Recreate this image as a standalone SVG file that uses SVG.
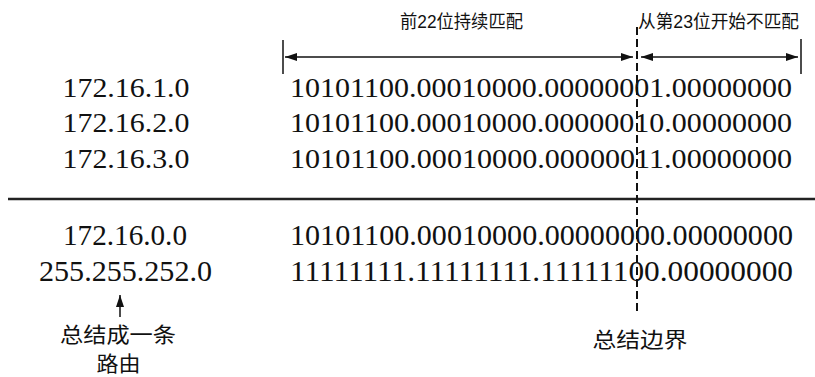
<svg xmlns="http://www.w3.org/2000/svg" width="815" height="377" viewBox="0 0 815 377">
<style>
.num{font-family:"Liberation Serif","Times New Roman",serif;font-size:28px;fill:#111}
.big{font-size:30px}
.cjk{font-family:"Liberation Sans","Noto Sans CJK SC",sans-serif;fill:#111}
.ln{stroke:#111;stroke-width:1.5;fill:none}
</style>
<defs>
<marker id="ah" viewBox="0 0 12 8" refX="12" refY="4" markerWidth="12" markerHeight="8" markerUnits="userSpaceOnUse" orient="auto-start-reverse">
<path d="M0,0 L12,4 L0,8 Z" fill="#111"/>
</marker>
</defs>
<rect width="815" height="377" fill="#fff"/>
<g id="label-match">
<text class="cjk" x="400" y="28" font-size="18" textLength="123" lengthAdjust="spacingAndGlyphs">前22位持续匹配</text>
</g>
<g id="label-mismatch">
<text class="cjk" x="638" y="28" font-size="18" textLength="161" lengthAdjust="spacingAndGlyphs">从第23位开始不匹配</text>
</g>
<g id="row1">
<text class="num" x="126" y="97" text-anchor="middle" textLength="127" lengthAdjust="spacingAndGlyphs">172.16.1.0</text>
<text class="num" x="290" y="97" textLength="502" lengthAdjust="spacingAndGlyphs">10101100.00010000.00000001.00000000</text>
</g>
<g id="row2">
<text class="num" x="126" y="132" text-anchor="middle" textLength="127" lengthAdjust="spacingAndGlyphs">172.16.2.0</text>
<text class="num" x="290" y="132" textLength="502" lengthAdjust="spacingAndGlyphs">10101100.00010000.00000010.00000000</text>
</g>
<g id="row3">
<text class="num" x="126" y="168" text-anchor="middle" textLength="127" lengthAdjust="spacingAndGlyphs">172.16.3.0</text>
<text class="num" x="290" y="168" textLength="502" lengthAdjust="spacingAndGlyphs">10101100.00010000.00000011.00000000</text>
</g>
<g id="row4">
<text class="num big" x="125" y="245" text-anchor="middle" textLength="124" lengthAdjust="spacingAndGlyphs">172.16.0.0</text>
<text class="num big" x="290" y="245" textLength="503" lengthAdjust="spacingAndGlyphs">10101100.00010000.00000000.00000000</text>
</g>
<g id="row5">
<text class="num big" x="125.5" y="281" text-anchor="middle" textLength="173" lengthAdjust="spacingAndGlyphs">255.255.252.0</text>
<text class="num big" x="290" y="281" textLength="503" lengthAdjust="spacingAndGlyphs">11111111.11111111.11111100.00000000</text>
</g>
<g id="label-summary">
<text class="cjk" x="118" y="342" font-size="21" text-anchor="middle" textLength="116" lengthAdjust="spacingAndGlyphs">总结成一条</text>
<text class="cjk" x="118.5" y="371" font-size="21" text-anchor="middle" textLength="44" lengthAdjust="spacingAndGlyphs">路由</text>
</g>
<g id="label-boundary">
<text class="cjk" x="640" y="347" font-size="21" text-anchor="middle" textLength="95" lengthAdjust="spacingAndGlyphs">总结边界</text>
</g>
<g id="connectors">
<line x1="8" y1="199" x2="815" y2="199" stroke="#222" stroke-width="2.5"/>
<line class="ln" x1="283" y1="40" x2="283" y2="74"/>
<line class="ln" x1="801" y1="39" x2="801" y2="74"/>
<line class="ln" x1="285" y1="57" x2="633" y2="57" marker-start="url(#ah)" marker-end="url(#ah)"/>
<line class="ln" x1="641" y1="57" x2="798" y2="57" marker-start="url(#ah)" marker-end="url(#ah)"/>
<line x1="637" y1="27" x2="637" y2="312" stroke="#111" stroke-width="2" stroke-dasharray="8 4"/>
<line class="ln" x1="120" y1="317" x2="120" y2="295" marker-end="url(#ah)"/>
</g>
</svg>
